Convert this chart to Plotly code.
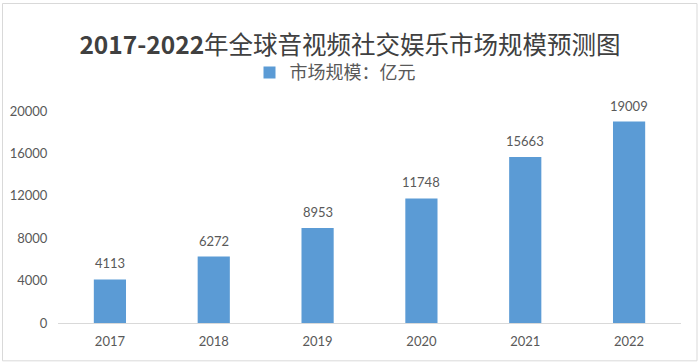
import plotly.graph_objects as go

years = ["2017", "2018", "2019", "2020", "2021", "2022"]
values = [4113, 6272, 8953, 11748, 15663, 19009]
series_name = "市场规模：亿元"
y_ticks = [0, 4000, 8000, 12000, 16000, 20000]
y_tick_labels = ["0", "4000", "8000", "12000", "16000", "20000"]
title_text = "<b>2017-2022</b>年全球音视频社交娱乐市场规模预测图"

W, H = 700, 363
L, R, T, B = 58, 19, 110.5, 39.5
pw, ph = W - L - R, H - T - B

LATIN = "Lato, 'Noto Sans CJK SC', sans-serif"
CJK = "'Noto Sans CJK SC', sans-serif"
GRAY = "#595959"

fig = go.Figure()
fig.add_trace(go.Bar(
    x=years, y=values, name=series_name,
    marker=dict(color="#5B9BD5", line=dict(width=0)),
    showlegend=True,
))

# data labels: category axis positions are serial indices
for i, yv in enumerate(values):
    fig.add_annotation(x=i, y=yv, xref="x", yref="y", text=str(yv), showarrow=False,
                       yanchor="bottom", yshift=6,
                       font=dict(family=LATIN, size=13, color=GRAY))

def px2x(p):
    return (p - L) / pw

def py2y(p):
    return (H - B - p) / ph

fig.add_shape(type="rect", xref="paper", yref="paper",
              x0=px2x(2.5), x1=px2x(697), y0=py2y(361.5), y1=py2y(2.5),
              line=dict(color="#D9D9D9", width=1), fillcolor="rgba(0,0,0,0)")

fig.update_layout(
    width=W, height=H,
    margin=dict(l=L, r=R, t=T, b=B, autoexpand=False),
    paper_bgcolor="white", plot_bgcolor="white",
    bargap=0.69,
    title=dict(text=title_text, x=0.5, xref="container", xanchor="center",
               y=1 - 45 / H, yref="container", yanchor="middle",
               font=dict(family=CJK, size=24.5, color="#404040")),
    legend=dict(orientation="h", x=px2x(335), xanchor="center", y=py2y(72), yanchor="middle",
                font=dict(family=CJK, size=18, color=GRAY),
                bgcolor="rgba(0,0,0,0)"),
    xaxis=dict(type="category", showgrid=False, showline=True, linecolor="#D9D9D9", linewidth=1,
               ticks="outside", ticklen=6, tickcolor="rgba(0,0,0,0)",
               tickfont=dict(family=LATIN, size=13, color=GRAY), zeroline=False),
    yaxis=dict(range=[0, 20000], tickvals=y_ticks, ticktext=y_tick_labels,
               showgrid=False, showline=False, zeroline=False,
               ticks="outside", ticklen=7, tickcolor="rgba(0,0,0,0)",
               tickfont=dict(family=LATIN, size=13, color=GRAY)),
)

fig.write_html("out.html", config={"displayModeBar": False},
               post_script="document.body.style.margin='0';document.body.style.padding='0';")
